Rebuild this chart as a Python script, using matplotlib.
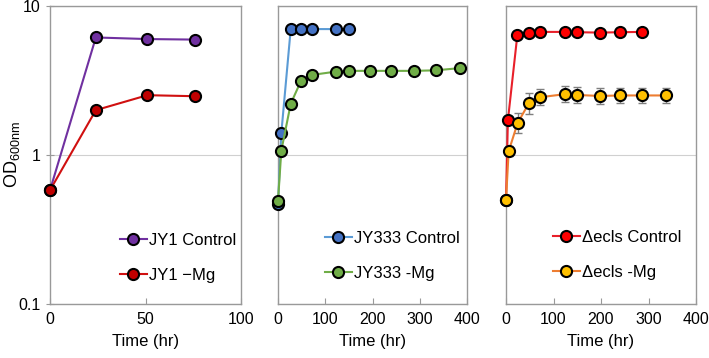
import matplotlib.pyplot as plt
from matplotlib.ticker import NullLocator, FixedLocator

plt.rcParams['font.family'] = ['Liberation Sans', 'DejaVu Sans']
plt.rcParams['font.size'] = 10.5
plt.rcParams['mathtext.fontset'] = 'custom'
plt.rcParams['mathtext.rm'] = 'Liberation Sans'

# panel 1: JY1
t_jy1 = [0, 24, 51, 76]
jy1_ctrl = [0.58, 6.15, 6.0, 5.95]
jy1_mg = [0.58, 2.0, 2.52, 2.48]

# panel 2: JY333
t_333_ctrl = [0, 7, 27, 49, 73, 123, 151]
jy333_ctrl = [0.47, 1.40, 7.05, 7.05, 7.0, 7.0, 7.0]
t_333_mg = [0, 7, 27, 49, 73, 123, 151, 195, 240, 287, 334, 385]
jy333_mg = [0.49, 1.07, 2.21, 3.16, 3.45, 3.63, 3.67, 3.67, 3.67, 3.67, 3.70, 3.83]

# panel 3: delta ecls
t_ecls_ctrl = [0, 4, 24, 48, 71, 124, 149, 197, 241, 286]
ecls_ctrl = [0.50, 1.71, 6.43, 6.63, 6.70, 6.70, 6.67, 6.63, 6.67, 6.70]
t_ecls_mg = [0, 5.6, 24.5, 48, 71, 124, 149, 197, 241, 286, 336]
ecls_mg = [0.50, 1.06, 1.64, 2.22, 2.44, 2.56, 2.53, 2.49, 2.51, 2.51, 2.51]
ecls_mg_fac = [1.03, 1.08, 1.17, 1.17, 1.13, 1.13, 1.13, 1.13, 1.12, 1.12, 1.12]

W, H = 709, 358
fig = plt.figure(figsize=(W / 100, H / 100), dpi=100)
bottom, top = 1 - 304 / H, 1 - 6 / H
lefts = [50, 278, 506]
rights = [241, 467, 696]
axes = [fig.add_axes([l / W, bottom, (r - l) / W, top - bottom]) for l, r in zip(lefts, rights)]


def style(ax, xmax, xticks, ylabels):
    ax.set_yscale('log')
    ax.set_ylim(0.1, 10)
    ax.set_xlim(0, xmax)
    ax.xaxis.set_major_locator(FixedLocator(xticks))
    ax.yaxis.set_minor_locator(NullLocator())
    ax.grid(axis='y', which='major', color='#d0d0d0', lw=0.8)
    ax.set_axisbelow(True)
    for s in ax.spines.values():
        s.set_color('#999999')
        s.set_linewidth(1.0)
    ax.tick_params(axis='x', direction='in', length=4, color='#999999', pad=6, labelsize=11.5)
    ax.set_yticks([0.1, 1, 10])
    if ylabels:
        ax.set_yticklabels(['0.1', '1', '10'])
        ax.tick_params(axis='y', direction='inout', length=6, color='#999999', labelsize=11.5)
    else:
        ax.set_yticklabels([])
        ax.tick_params(axis='y', length=0)
    ax.set_xlabel('Time (hr)', fontsize=12, labelpad=5)


def series(ax, x, y, fill, line, label, z):
    ax.plot(x, y, '-o', color=line, lw=1.5, ms=8, mfc=fill, mec='black', mew=1.5,
            label=label, clip_on=False, zorder=z)


ax1, ax2, ax3 = axes
style(ax1, 100, [0, 50, 100], True)
style(ax2, 400, [0, 100, 200, 300, 400], False)
style(ax3, 400, [0, 100, 200, 300, 400], False)
ax1.set_ylabel(r'OD$_{\mathregular{600nm}}$', fontsize=13, labelpad=0)
ax1.yaxis.set_label_coords(-0.145, 0.5)

series(ax1, t_jy1, jy1_ctrl, '#7030A0', '#7030A0', 'JY1 Control', 3)
series(ax1, t_jy1, jy1_mg, '#C00000', '#D01010', 'JY1 \u2212Mg', 4)

series(ax2, t_333_ctrl, jy333_ctrl, '#4472C4', '#5B9BD5', 'JY333 Control', 3)
series(ax2, t_333_mg, jy333_mg, '#70AD47', '#70AD47', 'JY333 -Mg', 4)

series(ax3, t_ecls_ctrl, ecls_ctrl, '#FF0000', '#E8202A', '\u0394ecls Control', 3)
lo = [v - v / f for v, f in zip(ecls_mg, ecls_mg_fac)]
hi = [v * f - v for v, f in zip(ecls_mg, ecls_mg_fac)]
ax3.errorbar(t_ecls_mg, ecls_mg, yerr=[lo, hi], fmt='none', ecolor='#7f7f7f',
             elinewidth=1, capsize=3, capthick=1, zorder=3.5, clip_on=False)
series(ax3, t_ecls_mg, ecls_mg, '#FFC000', '#ED7D31', '\u0394ecls -Mg', 4)

for ax, (x0, y0) in zip(axes, [(0.366, 0.154), (0.249, 0.161), (0.247, 0.164)]):
    ax.legend(loc='center left', bbox_to_anchor=(x0, y0), frameon=False, fontsize=12,
              handlelength=1.6, handletextpad=0.15, labelspacing=1.2, borderpad=0,
              borderaxespad=0)

fig.savefig('out.png', dpi=100)
